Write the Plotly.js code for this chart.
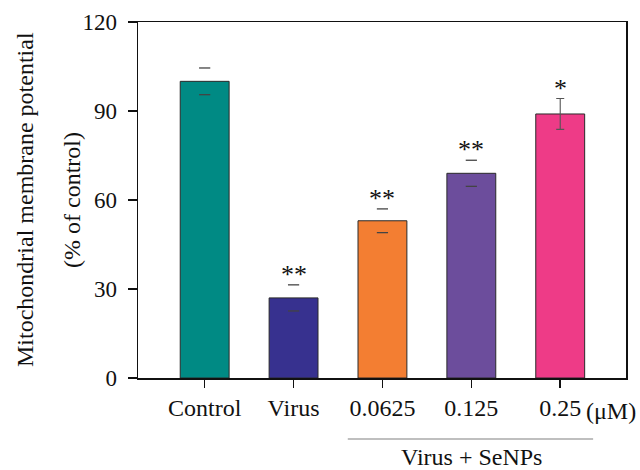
<!DOCTYPE html>
<html>
<head>
<meta charset="utf-8">
<script src="https://cdn.plot.ly/plotly-3.0.1.min.js"></script>
<style>html,body{margin:0;padding:0;background:#fff;}#chart{width:640px;height:470px;}</style>
</head>
<body>
<div id="chart"></div>
<script>
// ---- data ----
const categories = ["Control", "Virus", "0.0625", "0.125", "0.25"];
const values = [100, 27, 53, 69, 89];
const errors = [4.5, 4.4, 4.0, 4.4, 5.2];
const sigLabels = ["", "**", "**", "**", "*"];
const unitLabel = "(μM)";
const groupLabel = "Virus + SeNPs";
const yTickVals = [0, 30, 60, 90, 120];
const yTitleLines = ["Mitochondrial membrane potential", "(% of control)"];

// ---- styles ----
const barColors = ["#008A84", "#37318F", "#F37E32", "#6C4D9C", "#EE3B87"];
const font = "Liberation Serif";
const idx = categories.map((_, i) => i);

// caps-only error marks (first four), full error bar for last
const capIdx = idx.slice(0, 4);
const capX = [], capY = [];
capIdx.forEach(i => { capX.push(i, i); capY.push(values[i] + errors[i], values[i] - errors[i]); });
const stemIdx = [4];

const traces = [
  {
    type: "bar", x: idx, y: values, width: 0.55,
    marker: { color: barColors, line: { color: "#2a2a2a", width: 1 } },
    hoverinfo: "skip"
  },
  {
    type: "scatter", mode: "markers", x: capX, y: capY,
    marker: { symbol: "line-ew", size: 8, color: "#444", line: { color: "#444", width: 1.3 } },
    hoverinfo: "skip"
  },
  {
    type: "scatter", mode: "markers", x: stemIdx, y: stemIdx.map(i => values[i]),
    marker: { size: 1, color: "rgba(0,0,0,0)" },
    error_y: { type: "data", array: stemIdx.map(i => errors[i]), visible: true, color: "#555", thickness: 1.1, width: 4 },
    hoverinfo: "skip"
  }
];

const annotations = [];
idx.forEach(i => {
  if (sigLabels[i]) annotations.push({
    x: i, y: values[i] + errors[i], xref: "x", yref: "y", text: sigLabels[i],
    showarrow: false, yanchor: "bottom", yshift: -6,
    font: { family: font, size: 26, color: "#111" }
  });
});
annotations.push({
  x: 4, y: 0, xref: "x", yref: "paper", text: unitLabel, showarrow: false,
  xanchor: "left", yanchor: "top", xshift: 24, yshift: -18,
  font: { family: font, size: 24, color: "#111" }
});
annotations.push({
  x: 3, y: 0, xref: "x", yref: "paper", text: groupLabel, showarrow: false,
  xanchor: "center", yanchor: "top", yshift: -64,
  font: { family: font, size: 24, color: "#111" }
});
annotations.push({
  x: 0, y: 0.5, xref: "paper", yref: "paper", text: yTitleLines[0], showarrow: false,
  textangle: -90, xanchor: "center", yanchor: "middle", xshift: -113,
  font: { family: font, size: 24, color: "#111" }
});
annotations.push({
  x: 0, y: 0.5, xref: "paper", yref: "paper", text: yTitleLines[1], showarrow: false,
  textangle: -90, xanchor: "center", yanchor: "middle", xshift: -66,
  font: { family: font, size: 24, color: "#111" }
});

const layout = {
  width: 640, height: 470,
  margin: { l: 138, r: 14, t: 22, b: 92 },
  paper_bgcolor: "#fff", plot_bgcolor: "#fff",
  showlegend: false,
  font: { family: font, color: "#111" },
  xaxis: {
    range: [-0.75, 4.74], tickvals: idx, ticktext: categories,
    showgrid: false, zeroline: false, showline: true, mirror: true,
    linecolor: "#111", linewidth: 1.5,
    ticks: "outside", ticklen: 8, tickwidth: 1.5, tickcolor: "#111",
    tickfont: { family: font, size: 24, color: "#111" }, fixedrange: true
  },
  yaxis: {
    range: [0, 120], tickvals: yTickVals,
    showgrid: false, zeroline: false, showline: true, mirror: true,
    linecolor: "#111", linewidth: 1.5,
    ticks: "outside", ticklen: 9, tickwidth: 1.5, tickcolor: "#111",
    ticklabelstandoff: 6,
    tickfont: { family: font, size: 23, color: "#111" }, fixedrange: true
  },
  shapes: [{
    type: "line", xref: "x", yref: "paper", x0: 2 - 0.39, x1: 4 + 0.37, y0: -0.171, y1: -0.171,
    line: { color: "#aaaaaa", width: 1.5 }
  }],
  annotations: annotations
};

Plotly.newPlot("chart", traces, layout, { displayModeBar: false, staticPlot: true });
</script>
</body>
</html>
